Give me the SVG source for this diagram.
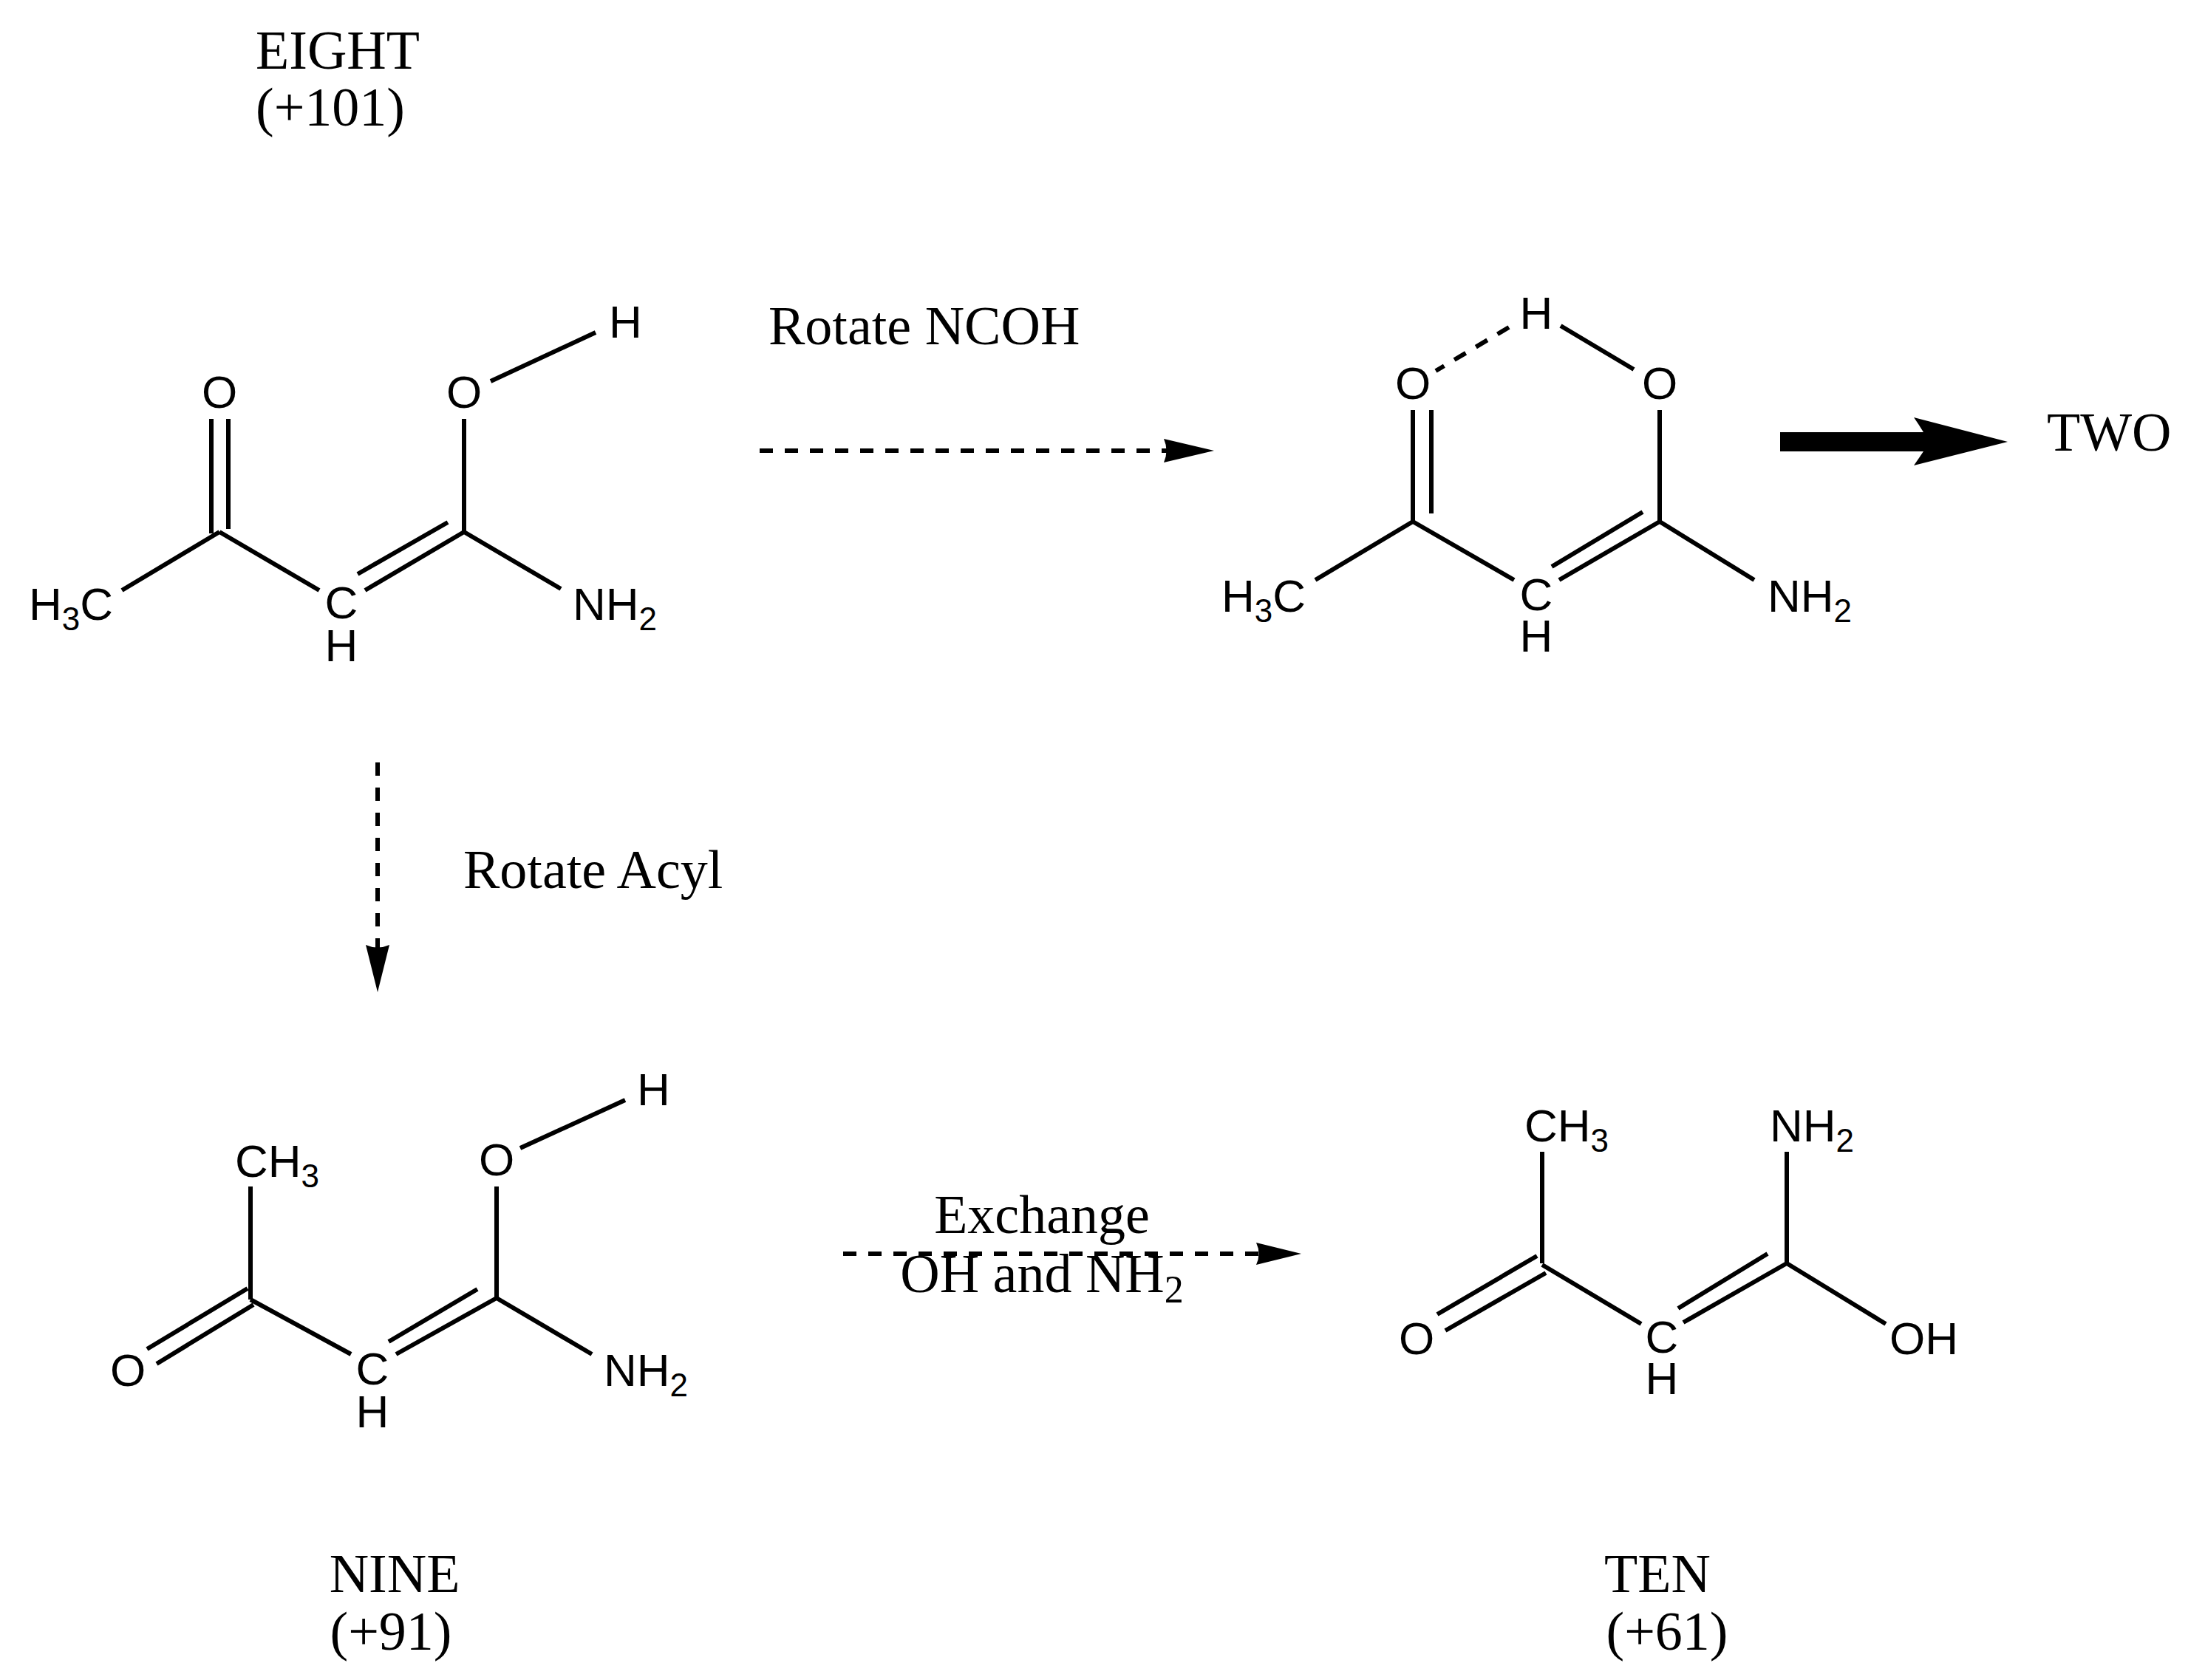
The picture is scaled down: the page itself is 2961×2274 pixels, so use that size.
<svg xmlns="http://www.w3.org/2000/svg" width="2961" height="2274" viewBox="0 0 2961 2274">
<style>
.b{stroke:#000;stroke-width:6;fill:none;stroke-linecap:butt}
.d{stroke:#000;stroke-width:6;fill:none;stroke-dasharray:18 16}
.a{font-family:"Liberation Sans",Arial,sans-serif;font-size:62px;fill:#000}
.s{font-family:"Liberation Serif","Times New Roman",serif;font-size:74px;fill:#000}
.m{text-anchor:middle}
</style>
<rect width="2961" height="2274" fill="#fff"/>
<g id="eight">
<text class="s m" x="457" y="93">EIGHT</text>
<text class="s m" x="447" y="170">(+101)</text>
<path class="b" d="M286,567V722M309,567V716M297,720L165,799M297,720L432,799M494,799L628,720M484,777L606,707M628,567V720M664,516L806,450M628,720L759,797"/>
<text class="a m" x="297" y="552">O</text>
<text class="a m" x="628" y="552">O</text>
<text class="a" x="824" y="457">H</text>
<text class="a" x="39" y="839">H<tspan font-size="44" dy="14">3</tspan><tspan dy="-14">C</tspan></text>
<text class="a m" x="462" y="837">C</text>
<text class="a m" x="462" y="895">H</text>
<text class="a" x="775" y="839">NH<tspan font-size="44" dy="14">2</tspan></text>
</g>
<g id="two-precursor">
<path class="b" d="M1912,555V706M1937,555V695M1912,706L1780,785M1912,706L2049,785M2110,785L2246,706M2100,767L2223,693M2246,555V706M2246,706L2374,785M2211,500L2112,441"/>
<path class="d" d="M2042,443L1943,502" stroke-dasharray="14 10"/>
<text class="a m" x="1912" y="540">O</text>
<text class="a m" x="2246" y="540">O</text>
<text class="a m" x="2079" y="445">H</text>
<text class="a" x="1653" y="828">H<tspan font-size="44" dy="14">3</tspan><tspan dy="-14">C</tspan></text>
<text class="a m" x="2079" y="826">C</text>
<text class="a m" x="2079" y="882">H</text>
<text class="a" x="2392" y="828">NH<tspan font-size="44" dy="14">2</tspan></text>
</g>
<g id="two"><text class="s" x="2770" y="610" font-size="70">TWO</text></g>
<g id="nine">
<path class="b" d="M339,1759V1606M199,1826L335,1744M212,1846L343,1766M339,1759L475,1833M536,1833L672,1757M526,1816L646,1745M672,1606V1757M704,1554L846,1489M672,1757L801,1833"/>
<text class="a" x="318" y="1593">CH<tspan font-size="44" dy="14">3</tspan></text>
<text class="a m" x="173" y="1876">O</text>
<text class="a m" x="504" y="1874">C</text>
<text class="a m" x="504" y="1932">H</text>
<text class="a m" x="672" y="1591">O</text>
<text class="a" x="862" y="1496">H</text>
<text class="a" x="817" y="1876">NH<tspan font-size="44" dy="14">2</tspan></text>
<text class="s m" x="534" y="2155">NINE</text>
<text class="s m" x="529" y="2233">(+91)</text>
</g>
<g id="ten">
<path class="b" d="M2087,1710V1559M1945,1779L2080,1700M1956,1801L2092,1723M2087,1712L2221,1792M2278,1790L2418,1710M2271,1771L2392,1697M2418,1710V1559M2418,1710L2552,1792"/>
<text class="a" x="2063" y="1545">CH<tspan font-size="44" dy="14">3</tspan></text>
<text class="a" x="2395" y="1545">NH<tspan font-size="44" dy="14">2</tspan></text>
<text class="a m" x="1917" y="1833">O</text>
<text class="a m" x="2249" y="1831">C</text>
<text class="a m" x="2249" y="1887">H</text>
<text class="a" x="2557" y="1833">OH</text>
<text class="s m" x="2243" y="2155">TEN</text>
<text class="s m" x="2256" y="2233">(+61)</text>
</g>
<g id="connectors">
<path class="d" d="M1028,610H1585"/>
<path d="M1643,610L1575,594Q1582,610 1575,626Z"/>
<text class="s" x="1040" y="466">Rotate NCOH</text>
<path class="d" d="M511,1032V1285"/>
<path d="M511,1343L495,1279Q511,1286 527,1279Z"/>
<text class="s" x="627" y="1202">Rotate Acyl</text>
<path class="d" d="M1141,1697H1705"/>
<path d="M1761,1697L1700,1682Q1707,1697 1700,1712Z"/>
<text class="s m" x="1410" y="1669">Exchange</text>
<text class="s m" x="1410" y="1749">OH and NH<tspan font-size="52" dy="14">2</tspan></text>
<path d="M2409,585H2603Q2597,575 2590,565L2717,598L2590,630Q2597,620 2603,611H2409Z"/>
</g>
</svg>
